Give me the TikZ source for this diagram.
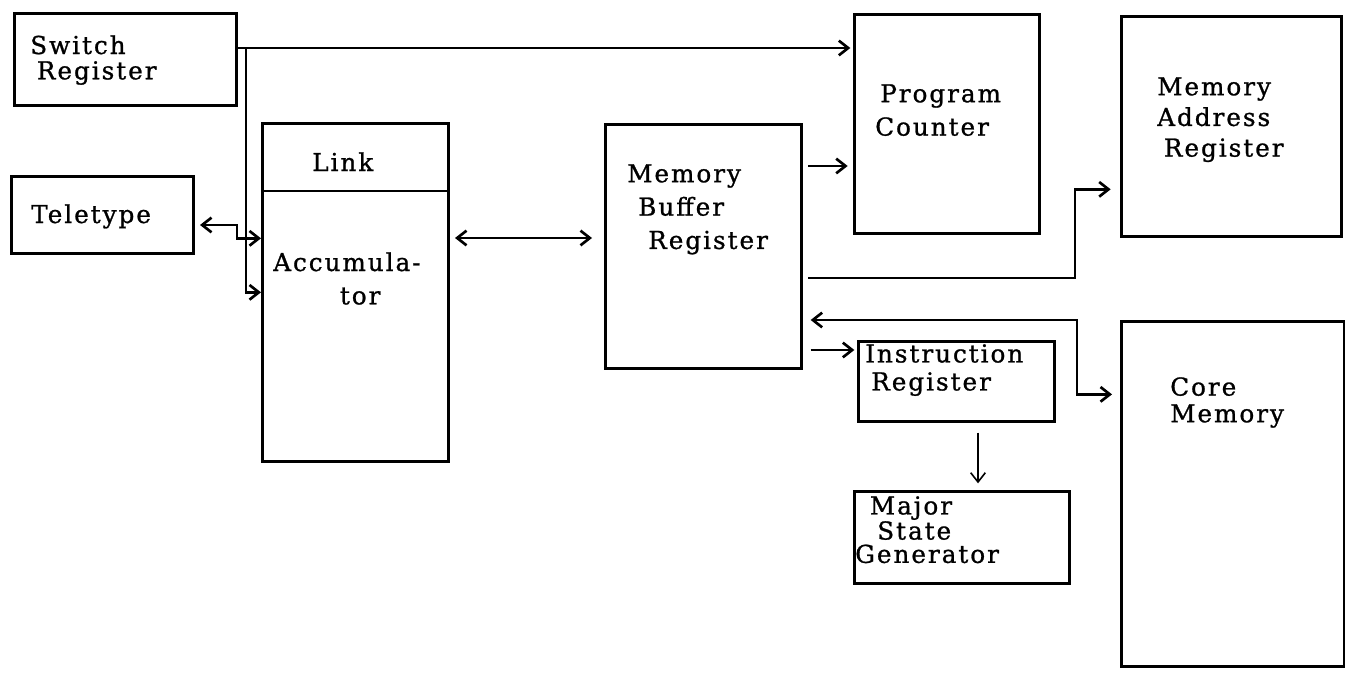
\documentclass[tikz,border=0pt]{standalone}
\usepackage{fontspec}
\setmainfont{DejaVu Serif}[LetterSpace=8,FakeBold=1]
\usetikzlibrary{arrows.meta}
\begin{document}
\begin{tikzpicture}[x=0.75pt,y=0.75pt,yscale=-1,xscale=1,
    reg/.style={draw, line width=2pt, inner sep=0pt, anchor=north west},
    lbl/.style={anchor=north west, inner sep=0pt, align=left, font=\fontsize{18.5}{#1}\selectfont},
    lbl/.default=22pt,
    wire/.style={line width=2pt},
    >={Straight Barb[length=7pt,width=11pt]}]
    \useasboundingbox (0,0) rectangle (1345,680);

    %Shape: Rectangle [Switch Register]
    \node[reg, minimum width=166.5pt, minimum height=69pt] (sw) at (13,12) {};
    %Shape: Rectangle [Teletype]
    \node[reg, minimum width=136.5pt, minimum height=57.75pt] (tty) at (10,175) {};
    %Shape: Rectangle [Link / Accumulator]
    \node[reg, minimum width=139.5pt, minimum height=253.5pt] (acc) at (261,122) {};
    \draw[line width=2pt] ([yshift=51.75pt]acc.north west) -- ([yshift=51.75pt]acc.north east) ;
    %Shape: Rectangle [Memory Buffer Register]
    \node[reg, minimum width=147pt, minimum height=183pt] (mbr) at (604,123) {};
    %Shape: Rectangle [Program Counter]
    \node[reg, minimum width=138.75pt, minimum height=164.25pt] (pc) at (853,13) {};
    %Shape: Rectangle [Memory Address Register]
    \node[reg, minimum width=165pt, minimum height=165pt] (mar) at (1120,15) {};
    %Shape: Rectangle [Core Memory]
    \node[reg, minimum width=167.25pt, minimum height=258.75pt] (core) at (1120,320) {};
    %Shape: Rectangle [Instruction Register]
    \node[reg, minimum width=147pt, minimum height=60pt] (ir) at (857,340) {};
    %Shape: Rectangle [Major State Generator]
    \node[reg, minimum width=161.25pt, minimum height=69pt] (msg) at (853,490) {};

    %Straight Lines [switch register bus]
    \coordinate (bus) at (246,48);
    \draw[wire,->,shorten >=2pt] (sw.east |- bus) -- (bus -| pc.west) ;
    \draw[wire,->] (bus) |- (acc.west) ;
    %Straight Lines [teletype]
    \coordinate (ttj) at (237,225);
    \draw[wire,<->,shorten <=4pt] (tty.east |- ttj) -- (ttj) |- ([yshift=-40.5pt]acc.west) ;
    %Straight Lines [accumulator - mbr]
    \coordinate (amb) at (452,238);
    \draw[wire,<->,shorten <=4pt,shorten >=9pt] (acc.east |- amb) -- (amb -| mbr.west) ;
    %Straight Lines [mbr - pc]
    \coordinate (mpc) at (805,166);
    \draw[wire,->,shorten <=4pt,shorten >=4pt] (mbr.east |- mpc) -- (mpc -| pc.west) ;
    %Straight Lines [mbr - mar]
    \coordinate (mma) at (1075,278);
    \draw[wire,->,shorten <=4pt,shorten >=7pt] (mbr.east |- mma) -- (mma) |- ([yshift=47.25pt]mar.west) ;
    %Straight Lines [core memory - mbr]
    \coordinate (mco) at (1077,320);
    \draw[wire,<->,shorten <=6pt,shorten >=6pt] (mbr.east |- mco) -- (mco) |- ([yshift=-74.6pt]core.west) ;
    %Straight Lines [mbr - ir]
    \coordinate (mir) at (808,350);
    \draw[wire,->,shorten <=6pt,shorten >=2pt] (mbr.east |- mir) -- (mir -| ir.west) ;
    %Straight Lines [ir - msg]
    \coordinate (ims) at (978,430);
    \draw[line width=1.2pt,->,shorten <=7.5pt,shorten >=5pt] (ir.south -| ims) -- (ims |- msg.north) ;

    % Text Node
    \node[lbl=19pt] (swt) at (30,35) {Switch\\\hspace*{5pt}Register};
    % Text Node
    \node[lbl] (ttyt) at (31,204) {Teletype};
    % Text Node
    \node[lbl] (linkt) at (312,152) {Link};
    % Text Node
    \node[lbl=25pt] (acct) at (273,252) {Accumula-\\\hspace*{50pt}tor};
    % Text Node
    \node[lbl=25pt] (mbrt) at (627,164) {Memory\\\hspace*{8.25pt}Buffer\\\hspace*{15.75pt}Register};
    % Text Node
    \node[lbl=25pt] (pct) at (875,84) {\hspace*{3.75pt}Program\\Counter};
    % Text Node
    \node[lbl=23pt] (mart) at (1157,77) {Memory\\Address\\\hspace*{5pt}Register};
    % Text Node
    \node[lbl=20pt] (coret) at (1170,377) {Core\\Memory};
    % Text Node
    \node[lbl=21pt] (irt) at (865,344) {Instruction\\\hspace*{4.5pt}Register};
    % Text Node
    \node[lbl=17.5pt] (msgt) at (855,496) {\hspace*{11pt}Major\\\hspace*{16.5pt}State\\Generator};
\end{tikzpicture}
\end{document}
